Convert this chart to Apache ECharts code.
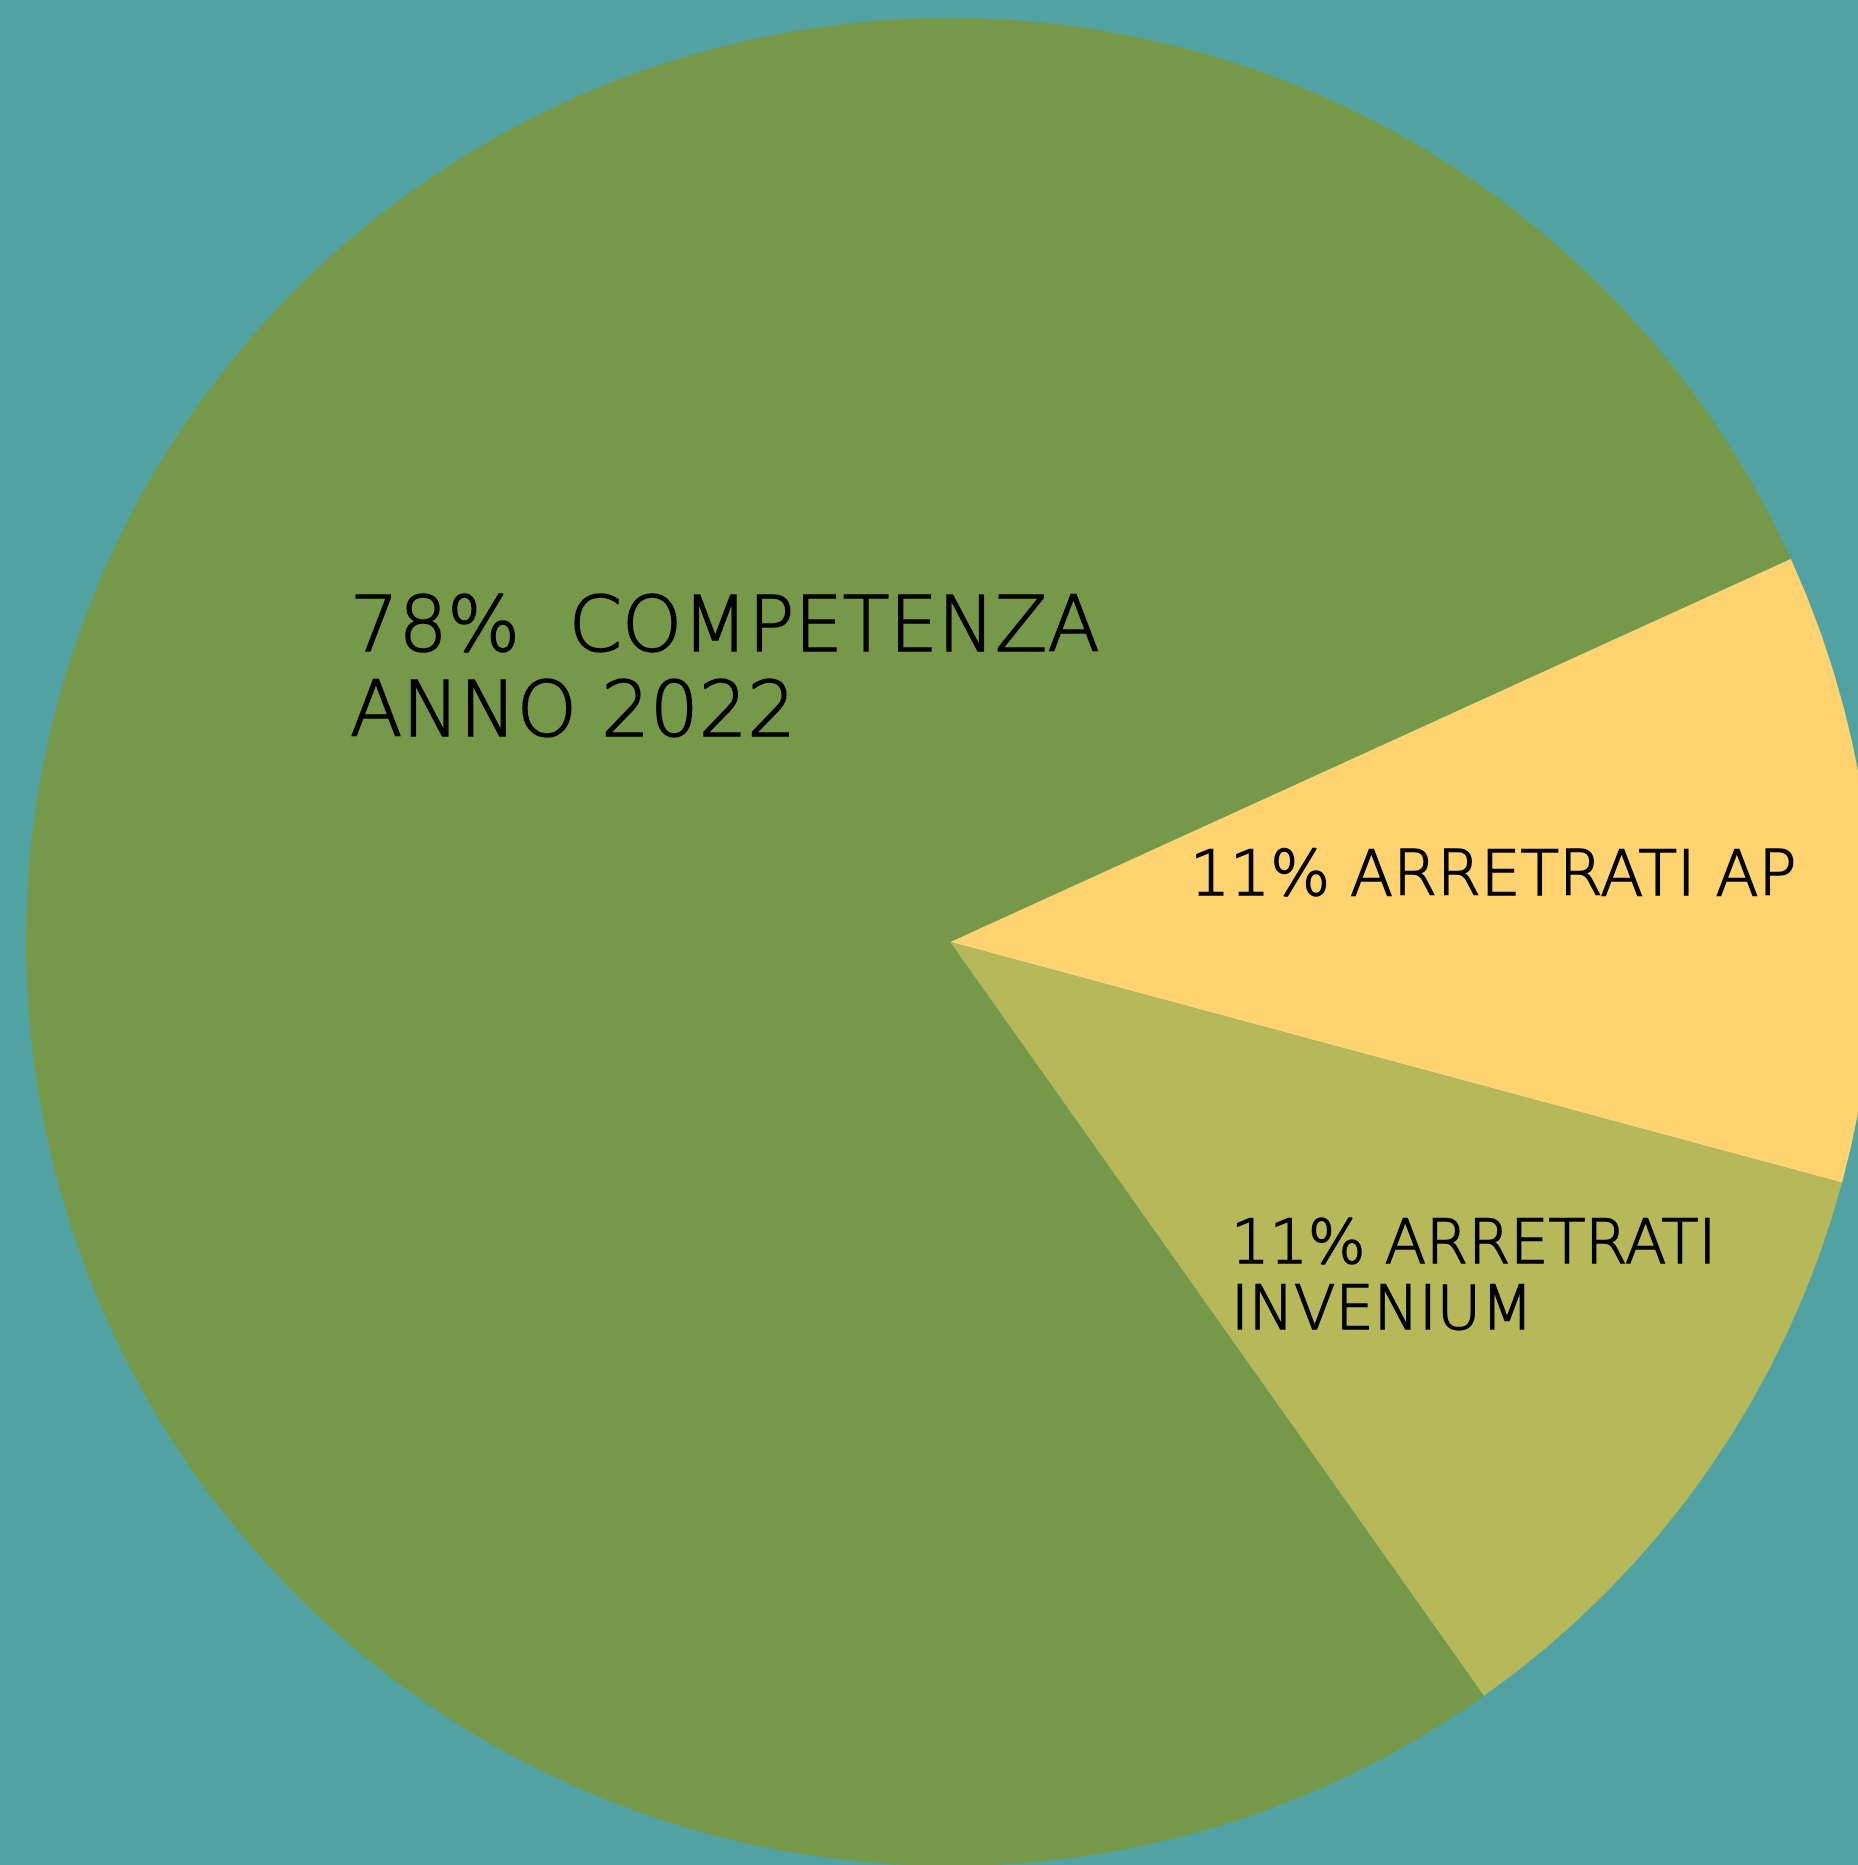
<!DOCTYPE html>
<html>
<head>
<meta charset="utf-8">
<script src="https://cdn.jsdelivr.net/npm/echarts@6/dist/echarts.min.js"></script>
<style>
  html, body { margin: 0; padding: 0; background: #51a3a3; }
  .chart { width: 1858px; height: 1865px; }
</style>
</head>
<body>
<div class="chart"></div>
<script>
// dati
var categories = ['ARRETRATI AP', 'ARRETRATI\nINVENIUM', 'COMPETENZA\nANNO 2022'];
var values = [11, 11, 78];
var colors = ['#ffd470', '#b7b85a', '#769849'];

// posizioni etichette (px)
var labelPos = [
    { x: 1190, y: 879, size: 63, lh: 66 },
    { x: 1231, y: 1280, size: 60.5, lh: 66 },
    { x: 350, y: 674, size: 76.5, lh: 85 }
];

var myChart = echarts.init(document.querySelector('.chart'));
var option = {
    backgroundColor: '#51a3a3',
    animation: false,
    series: [{
        type: 'pie',
        center: [950, 942],
        radius: 924,
        startAngle: 24.5,
        clockwise: true,
        avoidLabelOverlap: false,
        silent: true,
        label: {
            show: true,
            position: 'inside',
            color: '#000',
            fontFamily: 'DejaVu Sans',
            fontWeight: 200,
            textBorderColor: '#000',
            textBorderWidth: 1.5,
            align: 'left',
            formatter: function (p) {
                var sep = p.dataIndex === 2 ? '%  ' : '% ';
                return p.value + sep + p.name;
            }
        },
        labelLine: { show: false },
        labelLayout: function (params) {
            var lp = labelPos[params.dataIndex];
            return {
                x: lp.x,
                y: lp.y,
                align: 'left',
                verticalAlign: 'middle'
            };
        },
        data: categories.map(function (c, i) {
            return {
                name: c,
                value: values[i],
                itemStyle: { color: colors[i] },
                label: { fontSize: labelPos[i].size, lineHeight: labelPos[i].lh }
            };
        })
    }]
};
myChart.setOption(option);
</script>
</body>
</html>
